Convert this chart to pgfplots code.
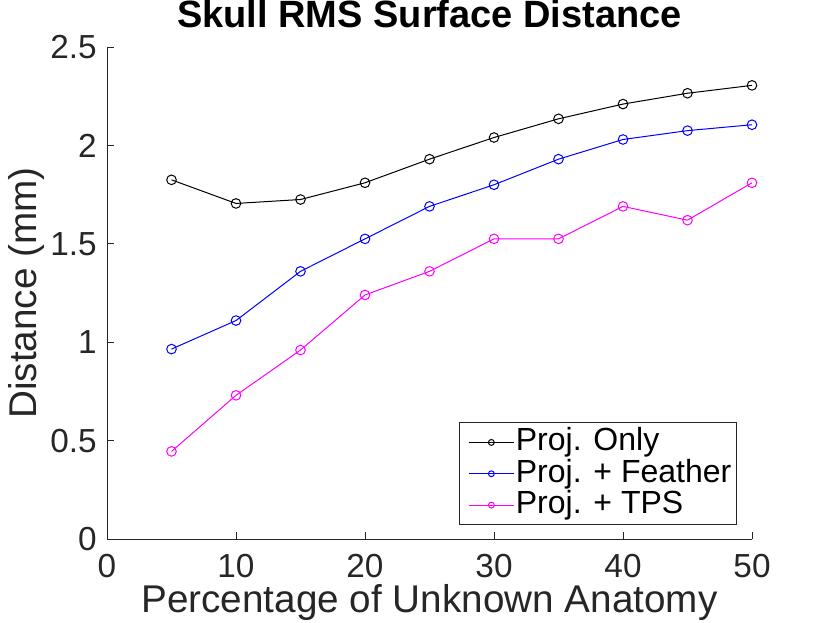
\documentclass[border=0pt]{standalone}
\usepackage{pgfplots}
\pgfplotsset{compat=1.18}
\usepackage{fontspec}
\setmainfont{Liberation Sans}
\definecolor{axgray}{RGB}{38,38,38}
\definecolor{mblue}{RGB}{0,0,255}
\definecolor{mmag}{RGB}{255,0,255}
\begin{document}
\begin{tikzpicture}
\useasboundingbox (-80.25pt,-63pt) rectangle (542.25pt,404.25pt);
\begin{axis}[
  at={(0,0)}, anchor=south west,
  scale only axis, width=483.75pt, height=369pt,
  xmin=0, xmax=50, ymin=0, ymax=2.5,
  axis x line*=bottom, axis y line*=left,
  axis line style={axgray, line width=0.7pt, -},
  xtick={0,10,...,50}, ytick={0,0.5,1,1.5,2,2.5},
  yticklabels={0,0.5,1,1.5,2,2.5},
  tick align=inside, major tick length=5.5pt,
  tick style={axgray, line width=0.7pt},
  /pgf/number format/assume math mode=true,
  ticklabel style={font=\fontsize{25}{27}\selectfont, text=axgray, inner sep=0pt},
  xticklabel style={anchor=base, yshift=-28.5pt},
  yticklabel style={anchor=east, xshift=-7.5pt},
  xlabel={Percentage of Unknown Anatomy},
  ylabel={Distance (mm)},
  label style={font=\fontsize{29}{31}\selectfont, text=axgray, inner sep=0pt},
  xlabel style={at={(axis description cs:0.5,0)}, anchor=base, yshift=-54.75pt},
  ylabel style={at={(axis description cs:-0.110,0.5)}, anchor=base, rotate=0},
  title={\textbf{Skull RMS Surface Distance}},
  title style={font=\fontsize{28.5}{30}\selectfont, at={(axis description cs:0.5,1)}, anchor=base, yshift=8.25pt, inner sep=0pt},
  legend style={at={(0.977,0.028)}, anchor=south east, draw=axgray, line width=0.7pt,
    font=\fontsize{24}{26}\selectfont, inner xsep=3pt, inner ysep=3pt,
    nodes={inner sep=1pt, text height=17pt, text depth=4.5pt, text=black},
    row sep=0pt, /tikz/every even column/.append style={column sep=1.75pt}},
  legend cell align=left,
  legend image code/.code={\path (-3.5pt,0pt); \draw[#1, mark size=2.2pt] (0pt,0pt) -- (34pt,0pt) plot coordinates {(17pt,0pt)};},
  every axis plot/.append style={line width=0.75pt, mark=o, mark size=3.6pt, mark options={solid}},
]
\addplot[black] coordinates {(5,1.825) (10,1.705) (15,1.725) (20,1.81) (25,1.93) (30,2.04) (35,2.135) (40,2.21) (45,2.265) (50,2.305)};
\addlegendentry{Proj. Only}
\addplot[mblue] coordinates {(5,0.965) (10,1.11) (15,1.36) (20,1.525) (25,1.69) (30,1.80) (35,1.93) (40,2.03) (45,2.075) (50,2.105)};
\addlegendentry{Proj. + Feather}
\addplot[mmag] coordinates {(5,0.445) (10,0.73) (15,0.96) (20,1.24) (25,1.36) (30,1.525) (35,1.525) (40,1.69) (45,1.62) (50,1.81)};
\addlegendentry{Proj. + TPS}
\end{axis}
\end{tikzpicture}
\end{document}
